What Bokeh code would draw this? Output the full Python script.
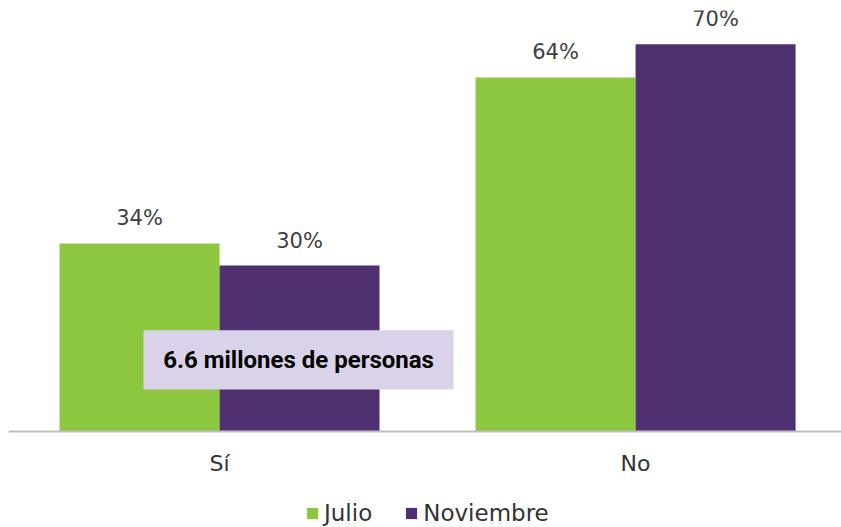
from bokeh.plotting import figure
from bokeh.models import (ColumnDataSource, Range1d, Legend, LegendItem,
                          BoxAnnotation, Label, Span)
from bokeh.core.properties import value
from bokeh.embed import file_html
from bokeh.resources import INLINE

categories = ["Sí", "No"]
julio = [34, 64]
noviembre = [30, 70]
series_names = ["Julio", "Noviembre"]
colors = ["#8DC63F", "#4F3172"]
annotation_text = "6.6 millones de personas"

centers = [i + 0.5 for i in range(len(categories))]
bw = 0.3846

p = figure(frame_width=833, frame_height=517, output_backend="svg", toolbar_location=None,
           x_range=Range1d(-0.0072, 1.995), y_range=Range1d(-17.36, 76.1),
           x_axis_location=None, y_axis_location=None,
           min_border_left=8, min_border_right=0, min_border_top=10, min_border_bottom=0)
p.outline_line_color = None
p.grid.grid_line_color = None

items = []
for vals, name, col, off in [(julio, series_names[0], colors[0], -bw / 2),
                             (noviembre, series_names[1], colors[1], bw / 2)]:
    src = ColumnDataSource(dict(x=[c + off for c in centers], top=vals,
                                lab=[f"{v}%" for v in vals]))
    r = p.vbar(x="x", top="top", width=bw, bottom=0, source=src,
               fill_color=col, line_color=None)
    p.text(x="x", y="top", text="lab", source=src, text_align="center",
           text_baseline="bottom", y_offset=-13, text_font=value("DejaVu Sans"),
           text_font_size="21px", text_color="#404040")
    items.append(LegendItem(label=name, renderers=[r]))

# category axis: baseline and category labels
p.add_layout(Span(location=0, dimension="width", line_color="#BFBFBF", line_width=2))
cat_src = ColumnDataSource(dict(x=centers, y=[0] * len(categories), t=categories))
p.text(x="x", y="y", text="t", source=cat_src, text_align="center",
       text_baseline="middle", y_offset=32, text_font=value("DejaVu Sans"),
       text_font_size="22px", text_color="#333333")

box = BoxAnnotation(left=0.3173, right=1.0625, bottom=7.6, top=18.3,
                    fill_color="#D9D2E9", fill_alpha=1.0, line_color=None)
p.add_layout(box)
p.add_layout(Label(x=0.69, y=12.95, text=annotation_text, text_align="center",
                   text_baseline="middle", text_font="Roboto", text_font_style="bold",
                   text_font_size="24px", text_color="#000000"))

legend = Legend(items=items, orientation="horizontal", location=(297, 1),
                label_text_font="DejaVu Sans", label_text_font_size="23px",
                label_text_color="#333333", glyph_width=14, glyph_height=14,
                label_height=22, spacing=32, label_standoff=5, padding=0, margin=0,
                border_line_color=None, background_fill_alpha=0)
p.add_layout(legend, "center")

open("out.html", "w").write(file_html(p, INLINE))
